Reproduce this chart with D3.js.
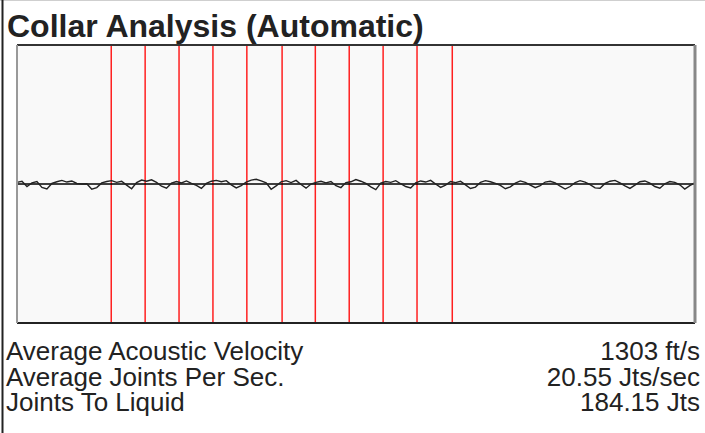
<!DOCTYPE html>
<html>
<head>
<meta charset="utf-8">
<script src="https://cdn.jsdelivr.net/npm/d3@7"></script>
<style>
  body { margin: 0; background: #fff; }
  text { font-family: "Liberation Sans", Arial, sans-serif; }
</style>
</head>
<body>
<div id="chart"></div>
<script>
// chart values
const title = "Collar Analysis (Automatic)";
// collar (joint) marker times, seconds
const collarTimes = [0.139, 0.189, 0.239, 0.289, 0.339, 0.391, 0.440, 0.490, 0.540, 0.590, 0.642];
// filtered acoustic trace, one sample every sampleStep seconds
const sampleStep = 0.00735;
const trace = [
  0.6, 1.0, -0.9, 0.4, 0.9, -1.2, -1.8, 0.2, 0.8, 1.3, 0.7, 1.1, 0.2, 0.0, 0.1, -1.9, -1.3, 0.4, 0.9,
  1.2, 0.6, 1.0, -0.4, -1.7, 0.5, 1.4, 1.0, 1.5, 0.6, -0.8, -1.5, 0.3, 0.9, 0.4, 1.1, 0.2, -0.5, -1.6,
  0.2, 1.0, 1.3, 0.8, 1.2, -0.3, -1.4, -0.6, 0.7, 1.4, 1.7, 1.1, 0.4, -1.9, -0.7, 0.8, 1.2, 0.5, 1.3,
  -0.2, -1.5, 0.0, 0.6, 1.0, 0.4, 0.9, -0.6, -1.3, 0.5, 0.8, 1.6, 1.0, 0.2, -1.0, -2.0, 0.3, 0.9, 0.6,
  1.2, 0.1, -0.9, -1.4, 0.4, 1.1, 0.7, 1.3, 0.0, -1.2, -0.4, 0.9, 0.5, 1.0, -0.3, -1.6, -1.1, 0.6, 1.2,
  0.8, 0.2, -0.5, -1.7, -1.0, 0.3, 1.1, 0.6, -0.4, -1.3, -0.6, 0.7, 1.0, 0.4, -0.8, -1.8, -0.9, 0.5, 1.2,
  0.7, -0.2, -1.4, -1.5, 0.2, 1.0, 1.3, 0.4, -0.7, -1.6, -0.4, 0.8, 1.1, 0.3, -0.9, -1.5, 0.1, 0.9, 0.6,
  -0.3, -1.8, -0.6, 0.4
];
const statLabels = ["Average Acoustic Velocity", "Average Joints Per Sec.", "Joints To Liquid"];
const statValues = ["1303 ft/s", "20.55 Jts/sec", "184.15 Jts"];

const W = 705, H = 433;
const plot = {left: 17, top: 45, right: 695, bottom: 323};

const svg = d3.select("#chart").append("svg")
    .attr("width", W)
    .attr("height", H);

// outer frame: light top rule and dark left rule
svg.append("line")
    .attr("x1", 0).attr("x2", W).attr("y1", 0.5).attr("y2", 0.5)
    .attr("stroke", "#cfcfcf").attr("stroke-width", 1);
svg.append("line")
    .attr("x1", 2.5).attr("x2", 2.5).attr("y1", 0).attr("y2", H)
    .attr("stroke", "#222").attr("stroke-width", 2);

svg.append("text")
    .attr("x", 7)
    .attr("y", 37)
    .attr("font-size", 32)
    .attr("font-weight", "bold")
    .attr("fill", "#222")
    .text(title);

const x = d3.scaleLinear().domain([0, 1]).range([plot.left, plot.right]);
const y = d3.scaleLinear().domain([-50, 50]).range([plot.bottom, plot.top]);

const g = svg.append("g").attr("class", "plotG");

g.append("rect")
    .attr("x", plot.left).attr("y", plot.top)
    .attr("width", plot.right - plot.left)
    .attr("height", plot.bottom - plot.top)
    .attr("fill", "#f9f9f9");

// collar markers
g.selectAll(".collar")
    .data(collarTimes)
    .join("line")
    .attr("class", "collar")
    .attr("x1", d => x(d)).attr("x2", d => x(d))
    .attr("y1", plot.top).attr("y2", plot.bottom)
    .attr("stroke", "#ff2020")
    .attr("stroke-width", 1.5);

// zero line
g.append("line")
    .attr("x1", plot.left).attr("x2", plot.right)
    .attr("y1", y(0)).attr("y2", y(0))
    .attr("stroke", "#000").attr("stroke-width", 1.5);

const line = d3.line()
    .x((d, i) => x(i * sampleStep))
    .y(d => y(d));

g.append("path")
    .datum(trace)
    .attr("d", line)
    .attr("fill", "none")
    .attr("stroke", "#222")
    .attr("stroke-width", 1.4);

// plot border
g.append("line").attr("x1", plot.left).attr("x2", plot.right).attr("y1", plot.top).attr("y2", plot.top)
    .attr("stroke", "#333").attr("stroke-width", 2);
g.append("line").attr("x1", plot.left).attr("x2", plot.right).attr("y1", plot.bottom).attr("y2", plot.bottom)
    .attr("stroke", "#222").attr("stroke-width", 2);
g.append("line").attr("x1", plot.left).attr("x2", plot.left).attr("y1", plot.top).attr("y2", plot.bottom)
    .attr("stroke", "#999").attr("stroke-width", 2);
g.append("line").attr("x1", plot.right).attr("x2", plot.right).attr("y1", plot.top).attr("y2", plot.bottom)
    .attr("stroke", "#888").attr("stroke-width", 3);

// stats rows
const rowY = d3.scalePoint().domain(statLabels).range([360, 411]);
svg.selectAll(".statLabel")
    .data(statLabels)
    .join("text")
    .attr("class", "statLabel")
    .attr("x", 6)
    .attr("y", d => rowY(d))
    .attr("font-size", 26)
    .attr("fill", "#222")
    .text(d => d);
svg.selectAll(".statValue")
    .data(statValues)
    .join("text")
    .attr("class", "statValue")
    .attr("x", 700)
    .attr("y", (d, i) => rowY(statLabels[i]))
    .attr("text-anchor", "end")
    .attr("font-size", 26)
    .attr("fill", "#222")
    .text(d => d);
</script>
</body>
</html>
